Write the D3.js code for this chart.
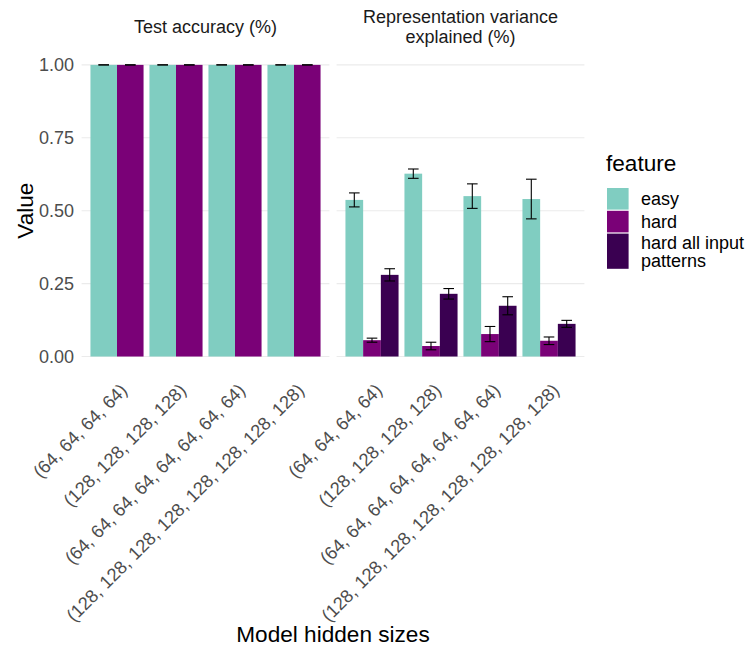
<!DOCTYPE html>
<html>
<head>
<meta charset="utf-8">
<script src="https://cdn.jsdelivr.net/npm/d3@7"></script>
<style>
  body { margin: 0; background: #fff; }
  svg { display: block; font-family: "Liberation Sans", Arial, Helvetica, sans-serif; }
</style>
</head>
<body>
<svg id="chart" width="749" height="648"></svg>
<script>
// ---- data ----
const categories = [
  "(64, 64, 64, 64)",
  "(128, 128, 128, 128)",
  "(64, 64, 64, 64, 64, 64, 64, 64)",
  "(128, 128, 128, 128, 128, 128, 128, 128)"
];
const panels = [["Test accuracy (%)"], ["Representation variance", "explained (%)"]];
const features = ["easy", "hard", "hard all input patterns"];
const featureLabels = [["easy"], ["hard"], ["hard all input", "patterns"]];
const featureColors = ["#80CDC1", "#7A0177", "#3A0051"];
const yTicks = [0, 0.25, 0.5, 0.75, 1.0];

// panel 1: test accuracy
const accEasy = [1.0, 1.0, 1.0, 1.0];
const accEasyErr = [0, 0, 0, 0];
const accHard = [1.0, 1.0, 1.0, 1.0];
const accHardErr = [0, 0, 0, 0];
// panel 2: representation variance explained
const varEasy = [0.537, 0.627, 0.550, 0.540];
const varEasyErr = [0.024, 0.016, 0.042, 0.068];
const varHard = [0.056, 0.036, 0.077, 0.054];
const varHardErr = [0.007, 0.013, 0.026, 0.013];
const varAll = [0.280, 0.215, 0.174, 0.112];
const varAllErr = [0.021, 0.018, 0.031, 0.012];

const panelSeries = [
  [ {f: 0, v: accEasy, e: accEasyErr}, {f: 1, v: accHard, e: accHardErr} ],
  [ {f: 0, v: varEasy, e: varEasyErr}, {f: 1, v: varHard, e: varHardErr}, {f: 2, v: varAll, e: varAllErr} ]
];

// ---- layout ----
const svg = d3.select("#chart");
const panelX = [[81.6, 329.4], [336.6, 584.4]];
const panelTop = 50.3, panelBottom = 371.1;
const y = d3.scaleLinear().domain([-0.05, 1.05]).range([panelBottom, panelTop]);

const tickColor = "#4D4D4D";
const tickFont = 18;
const xTickFont = 18.3;
const titleFont = 22.6;

// y axis labels
svg.append("g").selectAll("text").data(yTicks).join("text")
  .attr("x", 74).attr("y", d => y(d)).attr("dy", "0.36em")
  .attr("text-anchor", "end").attr("font-size", tickFont).attr("fill", tickColor)
  .text(d => d3.format(".2f")(d));

panelSeries.forEach((series, pi) => {
  const g = svg.append("g");
  const [x0, x1] = panelX[pi];
  // gridlines
  g.selectAll("line.grid").data(yTicks).join("line")
    .attr("x1", x0).attr("x2", x1)
    .attr("y1", d => y(d)).attr("y2", d => y(d))
    .attr("stroke", "#EBEBEB").attr("stroke-width", 1.1);

  const x = d3.scaleBand().domain(categories).range([x0, x1]).paddingInner(0.1).paddingOuter(0.15);
  const xs = d3.scaleBand().domain(d3.range(series.length)).range([0, x.bandwidth()]).padding(0);

  const rows = [];
  series.forEach((s, si) => {
    categories.forEach((c, ci) => rows.push({c, si, f: s.f, v: s.v[ci], e: s.e[ci]}));
  });

  g.selectAll("rect.bar").data(rows).join("rect")
    .attr("x", d => x(d.c) + xs(d.si))
    .attr("width", xs.bandwidth())
    .attr("y", d => y(d.v))
    .attr("height", d => y(0) - y(d.v))
    .attr("fill", d => featureColors[d.f]);

  const capW = x.step() * 0.18;
  const eb = g.selectAll("g.err").data(rows).join("g")
    .attr("transform", d => `translate(${x(d.c) + xs(d.si) + xs.bandwidth() / 2},0)`);
  eb.append("line").attr("x1", 0).attr("x2", 0)
    .attr("y1", d => y(d.v + d.e)).attr("y2", d => y(d.v - d.e))
    .attr("stroke", "#000").attr("stroke-width", 1.1);
  eb.append("line").attr("x1", -capW / 2).attr("x2", capW / 2)
    .attr("y1", d => y(d.v + d.e)).attr("y2", d => y(d.v + d.e))
    .attr("stroke", "#000").attr("stroke-width", 1.1);
  eb.append("line").attr("x1", -capW / 2).attr("x2", capW / 2)
    .attr("y1", d => y(d.v - d.e)).attr("y2", d => y(d.v - d.e))
    .attr("stroke", "#000").attr("stroke-width", 1.1);

  // x tick labels
  g.selectAll("text.xt").data(categories).join("text")
    .attr("transform", d => `translate(${x(d) + x.bandwidth() / 2 + 2},${panelBottom + 11}) rotate(-45)`)
    .attr("text-anchor", "end").attr("dy", "0.72em")
    .attr("font-size", xTickFont).attr("fill", tickColor)
    .text(d => d);

  // strip title
  const lines = panels[pi];
  const stripBase = lines.length === 1 ? 33 : 22.5;
  g.append("text")
    .attr("x", (x0 + x1) / 2).attr("y", stripBase)
    .attr("text-anchor", "middle").attr("font-size", tickFont).attr("fill", "#1A1A1A")
    .selectAll("tspan").data(lines).join("tspan")
    .attr("x", (x0 + x1) / 2).attr("dy", (d, i) => i === 0 ? 0 : 20.5)
    .text(d => d);
});

// axis titles
svg.append("text")
  .attr("transform", `translate(33,${(panelTop + panelBottom) / 2}) rotate(-90)`)
  .attr("text-anchor", "middle").attr("font-size", titleFont).attr("fill", "#000")
  .text("Value");
svg.append("text")
  .attr("x", (panelX[0][0] + panelX[1][1]) / 2).attr("y", 641.5)
  .attr("text-anchor", "middle").attr("font-size", titleFont).attr("fill", "#000")
  .text("Model hidden sizes");

// legend
const leg = svg.append("g");
leg.append("text").attr("x", 606).attr("y", 171).attr("font-size", titleFont).attr("fill", "#000").text("feature");
let ky = 188;
featureLabels.forEach((lab, i) => {
  const h = Math.max(21.6, lab.length * 17.6);
  leg.append("rect").attr("x", 607).attr("y", ky).attr("width", 21.6).attr("height", h)
    .attr("fill", featureColors[i]);
  const firstBase = ky + h / 2 - (lab.length - 1) * 9 + 6.3;
  lab.forEach((line, li) => {
    leg.append("text").attr("font-size", tickFont).attr("fill", "#000")
      .attr("x", 641).attr("y", firstBase + li * 18).text(line);
  });
  ky += h + 1.2;
});
</script>
</body>
</html>
